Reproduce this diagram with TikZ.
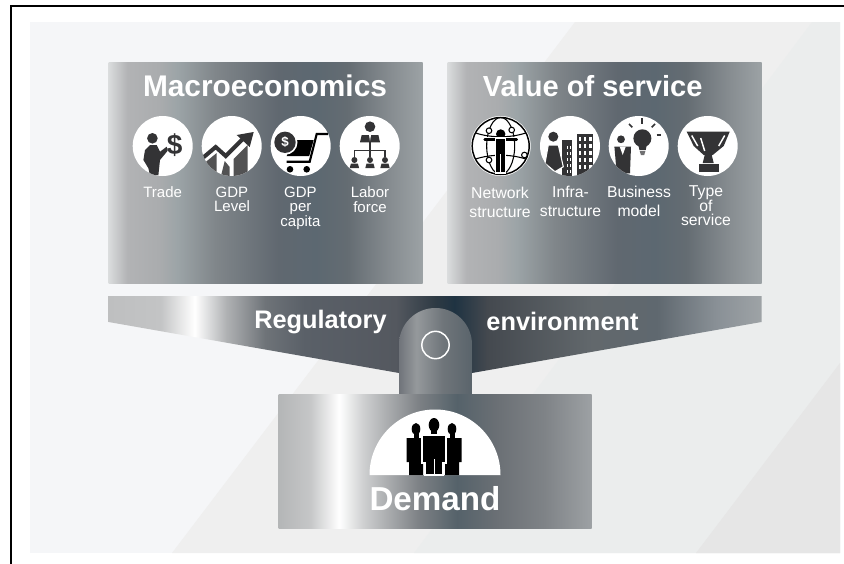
\documentclass[tikz,border=0pt]{standalone}
\usepackage{fontspec}
\usepackage{tikz}
\setmainfont{Liberation Sans}

% horizontal steel gradients, visible part runs from 25bp to 75bp
\pgfdeclarehorizontalshading{panelsteel}{100bp}{
	color(0bp)=(rgb,255:red,218;green,220;blue,221);
	color(25bp)=(rgb,255:red,218;green,220;blue,221);
	color(28bp)=(rgb,255:red,178;green,179;blue,181);
	color(33bp)=(rgb,255:red,170;green,172;blue,174);
	color(36bp)=(rgb,255:red,156;green,164;blue,167);
	color(42bp)=(rgb,255:red,128;green,134;blue,138);
	color(52bp)=(rgb,255:red,96;green,104;blue,112);
	color(58bp)=(rgb,255:red,92;green,104;blue,113);
	color(63bp)=(rgb,255:red,100;green,108;blue,114);
	color(70bp)=(rgb,255:red,135;green,141;blue,145);
	color(75bp)=(rgb,255:red,156;green,162;blue,165);
	color(100bp)=(rgb,255:red,156;green,162;blue,165)}
\pgfdeclarehorizontalshading{barsteel}{100bp}{
	color(0bp)=(rgb,255:red,190;green,191;blue,192);
	color(25bp)=(rgb,255:red,190;green,191;blue,192);
	color(29bp)=(rgb,255:red,195;green,196;blue,197);
	color(31.6bp)=(white);
	color(34bp)=(rgb,255:red,176;green,178;blue,180);
	color(37bp)=(rgb,255:red,110;green,115;blue,120);
	color(40bp)=(rgb,255:red,90;green,96;blue,104);
	color(47bp)=(rgb,255:red,84;green,88;blue,95);
	color(50bp)=(rgb,255:red,46;green,58;blue,68);
	color(51.5bp)=(rgb,255:red,31;green,51;blue,66);
	color(54bp)=(rgb,255:red,68;green,73;blue,79);
	color(62bp)=(rgb,255:red,98;green,104;blue,108);
	color(67bp)=(rgb,255:red,95;green,104;blue,111);
	color(71.5bp)=(rgb,255:red,137;green,144;blue,150);
	color(75bp)=(rgb,255:red,158;green,163;blue,166);
	color(100bp)=(rgb,255:red,158;green,163;blue,166)}
\pgfdeclarehorizontalshading{tabsteel}{100bp}{
	color(0bp)=(rgb,255:red,112;green,116;blue,122);
	color(25bp)=(rgb,255:red,112;green,116;blue,122);
	color(37bp)=(rgb,255:red,149;green,153;blue,156);
	color(55bp)=(rgb,255:red,111;green,117;blue,122);
	color(75bp)=(rgb,255:red,90;green,100;blue,107);
	color(100bp)=(rgb,255:red,90;green,100;blue,107)}
\pgfdeclarehorizontalshading{demandsteel}{100bp}{
	color(0bp)=(rgb,255:red,180;green,182;blue,183);
	color(25bp)=(rgb,255:red,180;green,182;blue,183);
	color(30bp)=(rgb,255:red,197;green,198;blue,199);
	color(34.7bp)=(white);
	color(38.5bp)=(rgb,255:red,207;green,208;blue,209);
	color(42bp)=(rgb,255:red,174;green,176;blue,178);
	color(47.5bp)=(rgb,255:red,124;green,128;blue,132);
	color(53.5bp)=(rgb,255:red,85;green,98;blue,106);
	color(60bp)=(rgb,255:red,107;green,112;blue,117);
	color(67.5bp)=(rgb,255:red,127;green,131;blue,135);
	color(75bp)=(rgb,255:red,157;green,161;blue,164);
	color(100bp)=(rgb,255:red,157;green,161;blue,164)}

\definecolor{wallA}{HTML}{F5F6F8}
\definecolor{wallB}{HTML}{EFEFEF}
\definecolor{wallC}{HTML}{EBEDED}
\definecolor{wallD}{HTML}{E6E6E6}
\definecolor{ink}{HTML}{333335}

\begin{document}
\begin{tikzpicture}[x=0.75pt,y=-0.75pt,
	icondisc/.style={circle,fill=white,minimum size=45pt,inner sep=0pt},
	caption/.style={text=white,align=center,anchor=north,inner sep=0pt,font=\fontsize{11.25}{11}\selectfont},
	captionwide/.style={caption,font=\fontsize{11.8}{11}\selectfont},
	heading/.style={text=white,anchor=base,inner sep=0pt,font=\bfseries\fontsize{22.4}{24}\selectfont},
	barlabel/.style={text=white,anchor=base,inner sep=0pt,font=\bfseries\fontsize{19}{21}\selectfont},
	halo/.style={draw=white,line width=0.8pt}]

	\useasboundingbox (0,0) rectangle (844,564);

	% draw wall and its diagonal facets
	\fill[wallA] (30,22) rectangle (840,553);
	\fill[wallB] (172,553) -- (575,22) -- (840,22) -- (840,553) -- cycle;
	\fill[wallC] (414,553) -- (812,22) -- (840,22) -- (840,553) -- cycle;
	\fill[wallD] (696,553) -- (840,363) -- (840,553) -- cycle;

	% draw frame
	\draw[black,line width=1.5pt] (11,564) -- (11,6) -- (844,6);

	% draw upper panels
	\shade[shading=panelsteel] (108.5,62.5) rectangle (422.5,283.5);
	\shade[shading=panelsteel] (447.5,62.5) rectangle (761.5,283.5);
	\node[heading] (macro) at (265,96.7) {Macroeconomics};
	\node[heading,anchor=base west,font=\bfseries\fontsize{21.8}{24}\selectfont] (value) at (482.5,96.7) {Value of service};

	% draw discs
	\foreach \s/\x in {trade/162.7,gdplevel/231.7,gdpcapita/300.7,labor/369.7,network/500.7,infra/570,business/638.7,trophy/707.7}
	{
		\node[icondisc] (\s) at (\x,146) {};
	}

	% draw captions
	\node[caption] (tradetext) at (162.7,186.5) {Trade};
	\node[caption] (leveltext) at (232,186.5) {GDP\\Level};
	\node[caption] (capitatext) at (300.5,186.5) {GDP\\per\\capita};
	\node[caption] (labortext) at (370,186.5) {Labor\\force};
	\node[captionwide] (networktext) at (500,186.5) {Network\\[3.2pt]structure};
	\node[captionwide] (infratext) at (570.5,185.5) {Infra-\\[3.2pt]structure};
	\node[captionwide] (businesstext) at (639,185.5) {Business\\[3.2pt]model};
	\node[captionwide] (typetext) at (706,185.5) {Type\\of\\service};

	% draw trade icon
	\begin{scope}[shift={(trade.center)}]
		\clip (0,0) circle [radius=30];
		\fill[ink] (-10.3,-7.7) circle [radius=5.3];
		\fill[ink] (-12.7,-1) -- (-6,-1) -- (-2.7,5.7) -- (4,0.7) -- (5,4.7) -- (-2.7,14) -- (-4.3,29) -- (-12.7,29) -- (-14.3,22.3) -- (-19.3,14) -- (-17.7,4) -- cycle;
		\node[text=ink,inner sep=0pt,font=\bfseries\fontsize{21}{21}\selectfont] (tradesign) at (12,-1) {\$};
	\end{scope}

	% draw gdp level icon
	\begin{scope}[shift={(gdplevel.center)}]
		\clip (0,0) circle [radius=30];
		\draw[ink,line width=3pt] (-29,12) -- (-16,1) -- (-6,10) -- (12,-8);
		\fill[ink] (22,-14) -- (5,-11) -- (18,1) -- cycle;
		\fill[ink!85] (-26,16) -- (-15,7) -- (-15,31) -- (-26,31) -- cycle;
		\fill[ink!85] (-11,31) -- (-7,15) -- (-2,21) -- (-2,31) -- cycle;
		\fill[ink!85] (2,31) -- (2,13) -- (16,-1) -- (16,31) -- cycle;
	\end{scope}

	% draw cart icon
	\begin{scope}[shift={(gdpcapita.center)}]
		\clip (0,0) circle [radius=30];
		\draw[black,line width=1.6pt] (27.7,-12) -- (16,-12) -- (9,15.7) -- (-14,15.7);
		\fill[black] (-7,-6) -- (13,-6) -- (8.5,10) -- (-14,10) -- cycle;
		\fill[black] (-10.7,23.3) circle [radius=3.3];
		\fill[black] (6,23.3) circle [radius=3.3];
		\fill[white] (-15.7,-3.7) circle [radius=12.5];
		\fill[ink] (-15.7,-3.7) circle [radius=10.7];
		\node[text=white,inner sep=0pt,font=\bfseries\fontsize{10}{10}\selectfont] (cartsign) at (-15.7,-3.7) {\$};
	\end{scope}

	% draw labor icon
	\begin{scope}[shift={(labor.center)}]
		\fill[ink] (0.3,-19.3) circle [radius=5.3];
		\fill[ink] (-9.7,-3.7) -- (-8,-11) -- (8.7,-11) -- (10.3,-3.7) -- cycle;
		\fill[white] (-0.7,-11) -- (1.3,-11) -- (0.3,-5) -- cycle;
		\draw[ink,line width=0.9pt] (0.3,-3.7) -- (0.3,4.7);
		\draw[ink,line width=0.9pt] (-15.3,10.5) -- (-15.3,4.7) -- (15.3,4.7) -- (15.3,10.5);
		\draw[ink,line width=0.9pt] (0.3,4.7) -- (0.3,10.5);
		\foreach \x in {-15.3,0.3,15.3}
		{
			\fill[ink] (\x,14) circle [radius=3];
			\fill[ink] (\x-4.7,22) -- (\x-3.5,17.7) -- (\x+3.5,17.7) -- (\x+4.7,22) -- cycle;
		}
	\end{scope}

	% draw network icon
	\begin{scope}[shift={(network.center)}]
		\draw[black,line width=1.1pt] (0,0) circle [radius=28.5];
		\draw[black,line width=0.8pt] (0,0) ellipse [x radius=14,y radius=28.5];
		\draw[black,line width=0.8pt] (-25,-13) .. controls (-10,-8) and (10,-8) .. (25,-13);
		\draw[black,line width=0.8pt] (-25,13) .. controls (-10,8) and (10,8) .. (25,13);
		\fill[black] (0,-12) circle [radius=4.7];
		\draw[white,line width=3pt] (-18,-6.7) -- (18,-6.7);
		\draw[black,line width=1.9pt,line cap=round] (-16,-6.7) -- (16,-6.7);
		\fill[black,halo] (-5,-8) rectangle (5,27);
		\draw[white,line width=0.5pt] (0,8) -- (0,27);
		\foreach \x/\y in {11/-16,-11.7/-15.3,23.7/9,-11.7/14}
		{
			\draw[black,fill=white,line width=0.8pt] (\x,\y) circle [radius=2.8];
		}
	\end{scope}

	% draw infrastructure icon
	\begin{scope}[shift={(infra.center)}]
		\clip (0,0) circle [radius=30];
		\fill[ink] (-16.7,-9.3) circle [radius=5];
		\fill[ink] (-8.3,-6) rectangle (2.3,30);
		\foreach \x in {-3.5,-0.5}
		{
			\foreach \y in {0,6,12,18,24}
			{
				\fill[white] (\x,\y) rectangle ++(1.8,3.4);
			}
		}
		\fill[ink] (6.7,-12) rectangle (23.3,30);
		\foreach \x in {8.6,13.8,19}
		{
			\foreach \y in {-9,-2,5,12,19}
			{
				\fill[white] (\x,\y) rectangle ++(2.6,4.4);
			}
		}
		\fill[ink,halo] (-21.7,-1) -- (-11.7,-1) -- (-6.7,20.7) -- (-15,25.7) -- (-25,17.3) -- cycle;
	\end{scope}

	% draw business icon
	\begin{scope}[shift={(business.center)}]
		\clip (0,0) circle [radius=30];
		\fill[ink] (-17.7,-6.7) circle [radius=3.9];
		\fill[ink] (-24.3,0.7) -- (-7.7,0.7) -- (-8.7,27.3) -- (-22,27.3) -- cycle;
		\fill[white] (-19,0.7) -- (-13,0.7) -- (-16,9) -- cycle;
		\fill[ink] (3.7,-7.7) circle [radius=9];
		\fill[ink] (-0.3,-1) -- (8,-1) -- (7,4) -- (0.7,4) -- cycle;
		\fill[ink!70] (1,5) -- (6.7,5) -- (5.5,9) -- (2.2,9) -- cycle;
		\draw[ink,line width=1.2pt] (-9.7,-22) -- (-6.3,-18.7);
		\draw[ink,line width=1.2pt] (3,-27.7) -- (3,-22);
		\draw[ink,line width=1.2pt] (16.3,-22) -- (13,-18.7);
		\draw[ink,line width=1.2pt] (18,-11) -- (22.3,-11);
	\end{scope}

	% draw trophy icon
	\begin{scope}[shift={(trophy.center)}]
		\fill[ink] (-21,-14.3) -- (22,-14.3) -- (16,0) -- (5,9) -- (-4,9) -- (-14,0) -- cycle;
		\draw[white,line width=1.1pt] (-16,-10.5) -- (-10,0);
		\draw[white,line width=1.1pt] (-7,-8) -- (-3,5);
		\draw[white,line width=1.1pt] (17,-10.5) -- (11,0);
		\fill[ink] (-3,9) -- (4,9) -- (6,17) -- (-5,17) -- cycle;
		\fill[ink] (-9,17.5) rectangle (11,26);
	\end{scope}

	% draw regulatory bar
	\shade[shading=barsteel] (108.5,296) -- (761.5,296) -- (761.5,322) -- (472,373) -- (399,373) -- (108.5,322) -- cycle;
	\node[barlabel] (regulatory) at (320.5,328) {Regulatory};
	\node[barlabel] (environment) at (562.5,330) {environment};

	% draw tab and demand block
	\shade[shading=tabsteel] (399,395) -- (399,344.5) arc [start angle=180,end angle=360,radius=36.5] -- (472,395) -- cycle;
	\shade[shading=demandsteel] (278.5,394) rectangle (591.5,528);
	\node[circle,draw=white,line width=1.1pt,minimum size=20.5pt,inner sep=0pt] (ring) at (435.5,345) {};

	% draw dome and people
	\fill[white] (369.5,475) arc [start angle=180,end angle=360,radius=65.5] -- cycle;
	\begin{scope}[shift={(435,475)}]
		\foreach \x in {-19,17}
		{
			\fill[black] (\x,-46) ellipse [x radius=4.3,y radius=6];
			\fill[black] (\x-2.5,-42) rectangle (\x+2.5,-36);
			\fill[black] (\x-9.5,-37) -- (\x+9.5,-37) -- (\x+9.5,-13) -- (\x+7,-13) -- (\x+7,0) -- (\x-7,0) -- (\x-7,-13) -- (\x-9.5,-13) -- cycle;
		}
		\fill[black] (-1,-50) ellipse [x radius=5.3,y radius=7];
		\fill[black] (-4,-45) rectangle (2,-39);
		\fill[black,halo] (-13,-40) -- (11,-40) -- (11,-12) -- (8,-12) -- (8,0) -- (-10,0) -- (-10,-12) -- (-13,-12) -- cycle;
		\draw[white,line width=0.5pt] (-1,-16) -- (-1,0);
	\end{scope}
	\node[text=white,anchor=base,inner sep=0pt,font=\bfseries\fontsize{24.9}{26}\selectfont] (demand) at (435,510) {Demand};

\end{tikzpicture}
\end{document}
